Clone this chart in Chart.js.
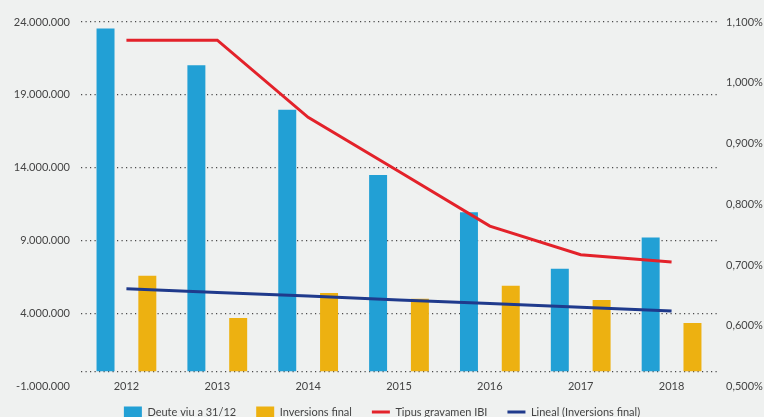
<!DOCTYPE html>
<html>
<head>
<meta charset="utf-8">
<script src="https://cdn.jsdelivr.net/npm/chart.js@4.4.1/dist/chart.umd.min.js"></script>
<style>
  html, body { margin: 0; padding: 0; background: #eff1f0; }
  #wrap { width: 764px; height: 417px; }
</style>
</head>
<body>
<div id="wrap"><canvas id="myChart" width="764" height="417"></canvas></div>
<script>
// categories
var years = ['2012', '2013', '2014', '2015', '2016', '2017', '2018'];

// series
var deuteViu = [23560000, 21030000, 17990000, 13500000, 10950000, 7080000, 9220000];
var inversions = [6600000, 3700000, 5420000, 5010000, 5910000, 4940000, 3350000];
var tipusIBI = [1.070, 1.070, 0.943, 0.854, 0.764, 0.717, 0.705];
var linealInv = [5700000, 5450000, 5200000, 4940000, 4690000, 4430000, 4180000];

// axis ranges
var leftAxis = { min: -1000000, max: 24000000, step: 5000000 };
var rightAxis = { min: 0.5, max: 1.1, step: 0.1 };

var colours = {
  blue: '#22a0d5',
  yellow: '#edb111',
  red: '#e3222a',
  navy: '#1f3a8c',
  text: '#444444',
  grid: '#4a4a4a'
};

function thousands(v) {
  var s = String(Math.abs(Math.round(v))).replace(/\B(?=(\d{3})+(?!\d))/g, '.');
  return (v < 0 ? '-' : '') + s;
}

Chart.defaults.font.family = 'Lato, "Open Sans", sans-serif';
Chart.defaults.font.size = 11;
Chart.defaults.color = colours.text;

var ctx = document.getElementById('myChart').getContext('2d');

var chart = new Chart(ctx, {
  type: 'bar',
  data: {
    labels: years,
    datasets: [{
      label: 'Deute viu a 31/12',
      data: deuteViu,
      backgroundColor: colours.blue,
      yAxisID: 'y',
      order: 1,
      categoryPercentage: 0.92,
      barPercentage: 0.43
    }, {
      label: 'Inversions final',
      data: inversions,
      backgroundColor: colours.yellow,
      yAxisID: 'y',
      order: 1,
      categoryPercentage: 0.92,
      barPercentage: 0.43
    }, {
      type: 'line',
      label: 'Tipus gravamen IBI',
      data: tipusIBI,
      borderColor: colours.red,
      backgroundColor: colours.red,
      borderWidth: 3,
      pointRadius: 0,
      tension: 0,
      fill: false,
      yAxisID: 'y1',
      order: 0
    }, {
      type: 'line',
      label: 'Lineal (Inversions final)',
      data: linealInv,
      borderColor: colours.navy,
      backgroundColor: colours.navy,
      borderWidth: 3,
      pointRadius: 0,
      tension: 0,
      fill: false,
      yAxisID: 'y',
      order: 0
    }]
  },
  options: {
    responsive: false,
    animation: false,
    devicePixelRatio: 1,
    layout: { padding: { top: 22, left: 0, right: 0, bottom: -10.5 } },
    plugins: {
      tooltip: { enabled: false },
      legend: {
        position: 'bottom',
        labels: {
          usePointStyle: true,
          pointStyleWidth: 18,
          boxHeight: 11,
          padding: 20,
          color: colours.text,
          font: { size: 11 },
          sort: function(a, b) { return a.datasetIndex - b.datasetIndex; },
          generateLabels: function(chart) {
            var items = Chart.defaults.plugins.legend.labels.generateLabels(chart);
            items.forEach(function(it) {
              var ds = chart.data.datasets[it.datasetIndex];
              it.pointStyle = ds.type === 'line' ? 'line' : 'rect';
              if (ds.type !== 'line') it.lineWidth = 0;
            });
            return items;
          }
        }
      }
    },
    scales: {
      x: {
        grid: { display: false, drawTicks: false },
        border: { display: false },
        // mirrored so the labels are not clipped to the (zero height) scale box
        ticks: { mirror: true, padding: -7, z: 1, color: colours.text },
        afterFit: function(scale) { scale.height = 0; }
      },
      y: {
        position: 'left',
        min: leftAxis.min,
        max: leftAxis.max,
        ticks: {
          stepSize: leftAxis.step,
          padding: 11,
          color: colours.text,
          callback: function(v) { return v === 0 ? '' : thousands(v); }
        },
        afterBuildTicks: function(scale) {
          scale.ticks.push({ value: 0 });
          scale.ticks.sort(function(a, b) { return a.value - b.value; });
        },
        grid: {
          drawTicks: false,
          lineWidth: 1.2,
          color: function(c) { return c.tick && c.tick.value === leftAxis.min ? 'rgba(0,0,0,0)' : colours.grid; }
        },
        border: { display: false, dash: [1.2, 3.3] },
        afterFit: function(scale) { scale.width = 81; }
      },
      y1: {
        position: 'right',
        min: rightAxis.min,
        max: rightAxis.max,
        ticks: {
          stepSize: rightAxis.step,
          padding: 9,
          color: colours.text,
          callback: function(v) { return v.toFixed(3).replace('.', ',') + '%'; }
        },
        grid: { display: false, drawTicks: false },
        border: { display: false },
        afterFit: function(scale) { scale.width = 47; }
      }
    }
  }
});
</script>
</body>
</html>
